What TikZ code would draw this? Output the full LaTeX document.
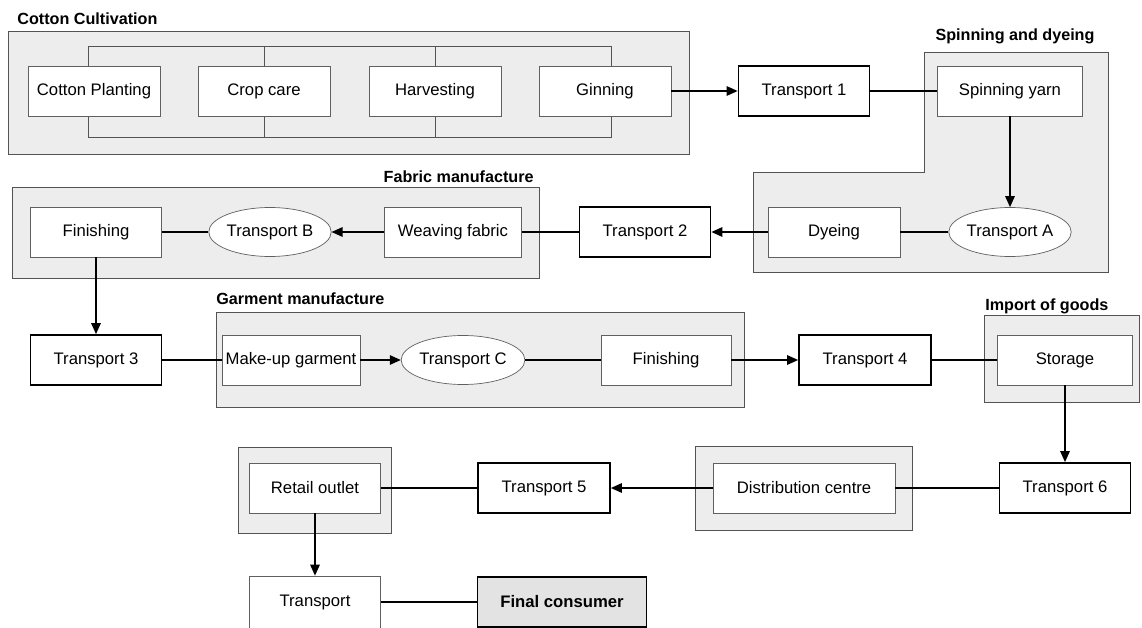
\documentclass[tikz,border=0pt]{standalone}
\usepackage{fontspec}
\setmainfont{Liberation Sans}
\usetikzlibrary{shapes.geometric,arrows.meta}
\newcommand\cellfont{\fontsize{9.5}{11}\selectfont}
\newcommand\headfont{\fontsize{9.2}{11}\selectfont\bfseries}

\begin{document}
\begin{tikzpicture}[x=0.02cm,y=-0.02cm,
		box/.style={draw=gray!75!black,fill=white,minimum height=1cm,inner sep=0pt,font=\cellfont},
		tbox/.style={box,draw=black,line width=1pt},
		oval/.style={ellipse,draw=gray!75!black,fill=white,minimum height=0.98cm,inner sep=0pt,font=\cellfont},
		grp/.style={draw=gray!65!black,fill=gray!14},
		frame/.style={draw=gray!65!black},
		ttl/.style={font=\headfont,inner sep=0pt},
		link/.style={line width=0.8pt},
		flow/.style={line width=0.8pt,-{Triangle[length=0.22cm,width=0.19cm]}}]
			\useasboundingbox (0,0) rectangle (1142,628);
			\begin{scope}
				\draw[grp] (8,31) rectangle (689,154);
				\draw[frame] (88,46) rectangle (611,137);
				\foreach \x in {264,435}
				\draw[frame] (\x,46) -- (\x,137);
				\node[ttl,anchor=west] (cottonttl) at (17,19) {Cotton Cultivation};
				\foreach \x/\Nom/\Texte in {94/plant/Cotton Planting,264/crop/Crop care,435/harv/Harvesting,605/gin/Ginning}
				\node[box,minimum width=2.64cm] (\Nom) at (\x,91) {\Texte};
			\end{scope}
			\begin{scope}
				\draw[grp] (924,52) -- (1108,52) -- (1108,272) -- (753,272) -- (753,172) -- (924,172) -- cycle;
				\node[ttl] (spinttl) at (1015,36) {Spinning and dyeing};
				\node[tbox,minimum width=2.62cm] (t1) at (804,91) {Transport 1};
				\node[box,minimum width=2.9cm] (spin) at (1010,91) {Spinning yarn};
				\node[oval,minimum width=2cm] (ta) at (1010,232) {Transport A};
				\node[box,minimum width=2.64cm] (dye) at (834,232) {Dyeing};
				\node[tbox,minimum width=2.62cm] (t2) at (645,232) {Transport 2};
			\end{scope}
			\begin{scope}
				\draw[grp] (12,187) rectangle (539,278);
				\node[ttl,anchor=east] (fabttl) at (534,177) {Fabric manufacture};
				\node[box,minimum width=2.74cm] (weave) at (453,232) {Weaving fabric};
				\node[oval,minimum width=2.18cm] (tb) at (270,232) {Transport B};
				\node[box,minimum width=2.62cm] (fin1) at (96,232) {Finishing};
				\node[tbox,minimum width=2.62cm] (t3) at (96,360) {Transport 3};
			\end{scope}
			\begin{scope}
				\draw[grp] (216,312) rectangle (744,407);
				\node[ttl,anchor=west] (garmttl) at (216,299) {Garment manufacture};
				\node[box,minimum width=2.76cm] (makeup) at (291,360) {Make-up garment};
				\node[oval,minimum width=2.08cm] (tc) at (463,360) {Transport C};
				\node[box,minimum width=2.6cm] (fin2) at (666,360) {Finishing};
				\node[tbox,minimum width=2.64cm] (t4) at (865,360) {Transport 4};
				\draw[grp] (984,315) rectangle (1139,402);
				\node[ttl,anchor=west] (impttl) at (985,306) {Import of goods};
				\node[box,minimum width=2.7cm] (store) at (1065,360) {Storage};
			\end{scope}
			\begin{scope}
				\draw[grp] (695,446) rectangle (912,530);
				\draw[grp] (238,447) rectangle (391,533);
				\node[tbox,minimum width=2.62cm] (t6) at (1065,488) {Transport 6};
				\node[box,minimum width=3.64cm] (dist) at (804,488) {Distribution centre};
				\node[tbox,minimum width=2.64cm] (t5) at (544,488) {Transport 5};
				\node[box,minimum width=2.62cm] (retail) at (315,488) {Retail outlet};
				\node[box,minimum width=2.62cm,minimum height=1.04cm] (tfin) at (315,602) {Transport};
				\node[tbox,fill=gray!22,minimum width=3.38cm,font=\cellfont\bfseries] (cons) at (562,602) {Final consumer};
			\end{scope}
			\draw[flow] (gin) -- (t1);
			\draw[link] (t1) -- (spin);
			\draw[flow] (spin) -- (ta);
			\draw[link] (ta) -- (dye);
			\draw[flow] (dye) -- (t2);
			\draw[link] (t2) -- (weave);
			\draw[flow] (weave) -- (tb);
			\draw[link] (tb) -- (fin1);
			\draw[flow] (fin1) -- (t3);
			\draw[link] (t3) -- (makeup);
			\draw[flow] (makeup) -- (tc);
			\draw[link] (tc) -- (fin2);
			\draw[flow] (fin2) -- (t4);
			\draw[link] (t4) -- (store);
			\draw[flow] (store) -- (t6);
			\draw[link] (t6) -- (dist);
			\draw[flow] (dist) -- (t5);
			\draw[link] (t5) -- (retail);
			\draw[flow] (retail) -- (tfin);
			\draw[link] (tfin) -- (cons);
		\end{tikzpicture}
\end{document}
